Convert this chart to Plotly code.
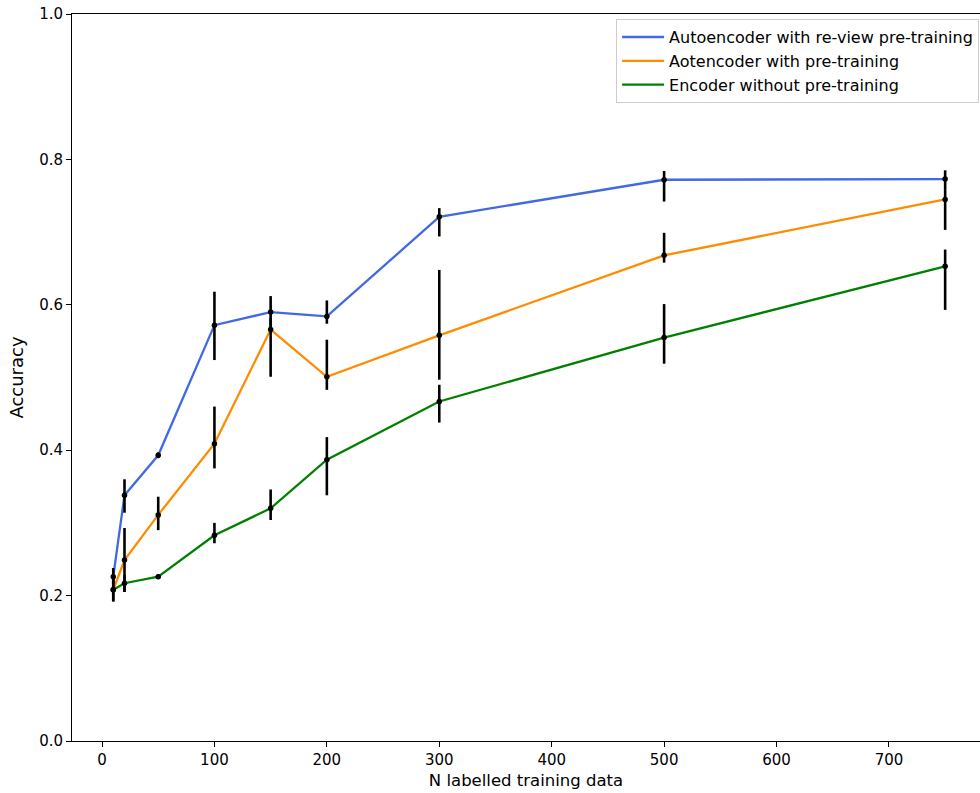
import plotly.graph_objects as go

x_vals = [10, 20, 50, 100, 150, 200, 300, 500, 750]

review_mean = [0.226, 0.338, 0.393, 0.572, 0.590, 0.584, 0.721, 0.772, 0.773]
review_upper = [0.238, 0.360, 0.397, 0.618, 0.612, 0.606, 0.733, 0.784, 0.785]
review_lower = [0.216, 0.314, 0.389, 0.524, 0.569, 0.574, 0.694, 0.742, 0.758]

pre_mean = [0.208, 0.249, 0.311, 0.409, 0.566, 0.501, 0.558, 0.668, 0.745]
pre_upper = [0.224, 0.293, 0.336, 0.460, 0.582, 0.552, 0.648, 0.699, 0.758]
pre_lower = [0.192, 0.205, 0.290, 0.375, 0.501, 0.483, 0.497, 0.658, 0.703]

nopre_mean = [0.208, 0.217, 0.226, 0.283, 0.320, 0.387, 0.467, 0.555, 0.653]
nopre_upper = [0.222, 0.228, 0.229, 0.300, 0.346, 0.418, 0.490, 0.601, 0.676]
nopre_lower = [0.192, 0.205, 0.223, 0.272, 0.304, 0.338, 0.438, 0.519, 0.593]

series = [
    ("Autoencoder with re-view pre-training", "#4169E1", review_mean, review_upper, review_lower),
    ("Aotencoder with pre-training", "#FF8C00", pre_mean, pre_upper, pre_lower),
    ("Encoder without pre-training", "#008000", nopre_mean, nopre_upper, nopre_lower),
]

x_ticks = [0, 100, 200, 300, 400, 500, 600, 700]
y_ticks = [0.0, 0.2, 0.4, 0.6, 0.8, 1.0]

fig = go.Figure()

for name, color, m, up, lo in series:
    fig.add_trace(go.Scatter(
        x=x_vals, y=m, mode="lines", name=name,
        line=dict(color=color, width=2.3),
    ))

for name, color, m, up, lo in series:
    fig.add_trace(go.Scatter(
        x=x_vals, y=m, mode="markers", showlegend=False,
        marker=dict(color="black", size=5.5),
        error_y=dict(
            type="data", symmetric=False,
            array=[u - v for u, v in zip(up, m)],
            arrayminus=[v - l for v, l in zip(m, lo)],
            color="black", thickness=2.6, width=0,
        ),
    ))

font = "DejaVu Sans"
fig.update_layout(
    width=980, height=793,
    margin=dict(l=72, r=0, t=14, b=52),
    paper_bgcolor="white", plot_bgcolor="white",
    font=dict(family=font, size=15, color="black"),
    showlegend=True,
    legend=dict(
        x=0.999, xanchor="right", y=0.993, yanchor="top",
        bgcolor="rgba(255,255,255,0.8)", bordercolor="#cccccc", borderwidth=1,
        font=dict(family=font, size=16),
        tracegroupgap=0, itemwidth=42,
    ),
    xaxis=dict(
        range=[-26.7, 781], tickvals=x_ticks,
        showgrid=False, zeroline=False,
        showline=True, linecolor="black", linewidth=1, mirror=True,
        ticks="outside", ticklen=5, tickcolor="black",
        title=dict(text="N labelled training data", standoff=6,
                   font=dict(family=font, size=16.5)),
    ),
    yaxis=dict(
        range=[0, 1], tickvals=y_ticks, tickformat=".1f",
        showgrid=False, zeroline=False,
        showline=True, linecolor="black", linewidth=1,
        ticks="outside", ticklen=5, tickcolor="black",
        title=dict(text="Accuracy", standoff=10,
                   font=dict(family=font, size=18)),
    ),
)

fig.write_html(
    "out.html",
    config={"displayModeBar": False},
    post_script="document.body.style.margin='0';document.body.style.overflow='hidden';",
)
